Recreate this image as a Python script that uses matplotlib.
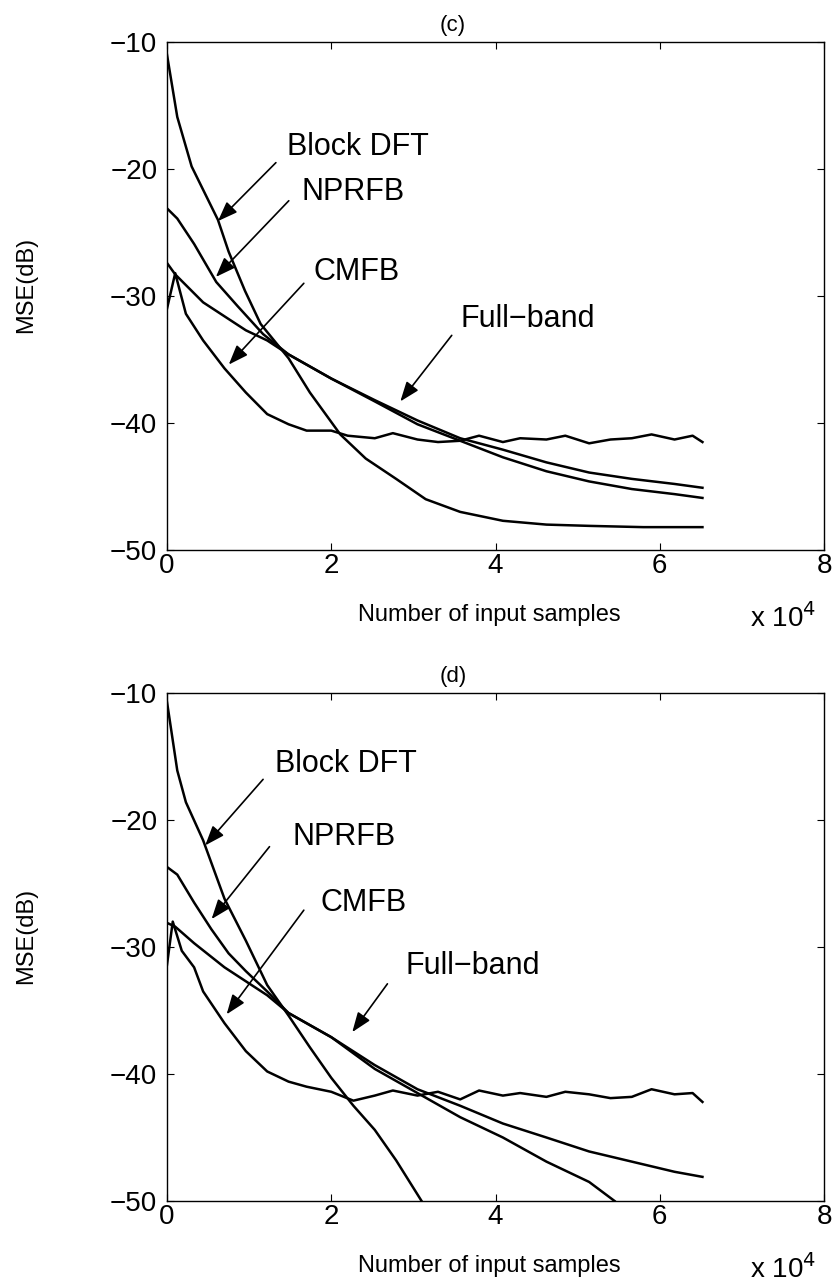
import matplotlib
matplotlib.use("Agg")
import matplotlib.pyplot as plt

plt.rcParams["font.family"] = ["Liberation Sans", "DejaVu Sans"]

# ---- panel (c) ----
c_block_x = [0, 1250, 3000, 6200, 7500, 9500, 11400, 14800, 17400, 21100, 24200, 27900, 31500, 35700, 40900, 46200, 51400, 58000, 65200]
c_block_y = [-11.0, -15.9, -19.8, -24.0, -26.5, -29.6, -32.2, -34.9, -37.6, -40.9, -42.8, -44.4, -46.0, -47.0, -47.7, -48.0, -48.1, -48.2, -48.2]

c_nprfb_x = [0, 1250, 3300, 6000, 8600, 11700, 14800, 20000, 25300, 30500, 35700, 40900, 46200, 51400, 56600, 61800, 65200]
c_nprfb_y = [-23.1, -23.9, -25.9, -28.9, -30.8, -33.0, -34.6, -36.5, -38.2, -39.8, -41.2, -42.1, -43.1, -43.9, -44.4, -44.8, -45.1]

c_full_x = [0, 1000, 4400, 7000, 9600, 12200, 14800, 20000, 25300, 30500, 35700, 40900, 46200, 51400, 56600, 61800, 65200]
c_full_y = [-27.4, -28.3, -30.5, -31.6, -32.7, -33.5, -34.6, -36.5, -38.3, -40.1, -41.4, -42.7, -43.8, -44.6, -45.2, -45.6, -45.9]

c_cmfb_x = [0, 1000, 2300, 4400, 7000, 9600, 12200, 14800, 17000, 20000, 22000, 25300, 27500, 30500, 33000, 35700, 38000, 40900, 43000,
            46200, 48500, 51400, 54000, 56600, 59000, 61800, 64000, 65200]
c_cmfb_y = [-31.0, -28.2, -31.4, -33.5, -35.7, -37.6, -39.3, -40.1, -40.6, -40.6, -41.0, -41.2, -40.8, -41.3, -41.5, -41.4, -41.0, -41.5, -41.2,
            -41.3, -41.0, -41.6, -41.3, -41.2, -40.9, -41.3, -41.0, -41.5]

# ---- panel (d) ----
d_block_x = [0, 1250, 2300, 4400, 7000, 9600, 12200, 14800, 17400, 20000, 22700, 25300, 27900, 31000]
d_block_y = [-10.7, -16.1, -18.6, -21.6, -26.2, -29.5, -33.0, -35.4, -37.9, -40.3, -42.5, -44.4, -46.8, -50.0]

d_nprfb_x = [0, 1250, 3300, 5400, 7500, 9600, 12200, 14800, 20000, 25300, 30500, 35700, 40900, 46200, 51400, 56600, 61800, 65200]
d_nprfb_y = [-23.7, -24.3, -26.5, -28.6, -30.5, -31.9, -33.5, -35.2, -37.1, -39.3, -41.2, -42.5, -43.9, -45.0, -46.1, -46.9, -47.7, -48.1]

d_full_x = [0, 1000, 3300, 7000, 9600, 12200, 14800, 20000, 25300, 30500, 35700, 40900, 46200, 51400, 54500]
d_full_y = [-28.1, -28.4, -29.7, -31.6, -32.7, -33.8, -35.2, -37.1, -39.6, -41.5, -43.4, -45.0, -46.9, -48.5, -50.0]

d_cmfb_x = [0, 700, 1800, 3300, 4400, 7000, 9600, 12200, 14800, 17000, 20000, 22700, 25300, 27500, 30500, 33000, 35700, 38000, 40900,
            43000, 46200, 48500, 51400, 54000, 56600, 59000, 61800, 64000, 65200]
d_cmfb_y = [-31.4, -28.0, -30.3, -31.6, -33.5, -36.0, -38.2, -39.8, -40.6, -41.0, -41.4, -42.1, -41.7, -41.3, -41.7, -41.4, -42.0, -41.3, -41.7,
            -41.5, -41.8, -41.4, -41.6, -41.9, -41.8, -41.2, -41.6, -41.5, -42.2]

labels = ["Block DFT", "NPRFB", "CMFB", "Full\u2212band"]
# (text xy, arrow tail, arrow head) per label
c_notes = [((14570, -18.3), (13260, -19.5), (6210, -24.1)),
           ((16400, -21.8), (14830, -22.5), (5950, -28.5)),
           ((17860, -28.1), (16660, -29.0), (7520, -35.4)),
           ((35720, -31.8), (34670, -33.1), (28410, -38.3))]
d_notes = [((13160, -15.6), (11700, -16.8), (4650, -22.0)),
           ((15250, -21.3), (12480, -22.1), (5430, -27.8)),
           ((18750, -26.5), (16660, -27.1), (7260, -35.3)),
           ((29030, -31.5), (26840, -32.9), (22560, -36.7))]

W, H = 833, 1288


def panel(fig, ax, curves, notes, title, dy):
    for xs, ys in curves:
        ax.plot(xs, ys, color="black", linewidth=1.8)
    for lab, (txy, tail, head) in zip(labels, notes):
        ax.text(txy[0], txy[1], lab, fontsize=22, va="center", ha="left")
        ax.annotate("", xy=head, xytext=tail,
                    arrowprops=dict(arrowstyle="-|>,head_length=1.2,head_width=0.45",
                                    color="black", lw=1.2, shrinkA=0, shrinkB=0))
    ax.set_xlim(0, 80000)
    ax.set_ylim(-50, -10)
    ax.set_xticks([0, 20000, 40000, 60000, 80000])
    ax.set_xticklabels(["0", "2", "4", "6", "8"])
    ax.set_yticks([-50, -40, -30, -20, -10])
    ax.set_yticklabels(["\u221250", "\u221240", "\u221230", "\u221220", "\u221210"])
    ax.tick_params(direction="in", top=True, right=True, labelsize=20, length=5)
    ax.tick_params(axis="x", pad=2)
    ax.tick_params(axis="y", pad=7)
    for sp in ax.spines.values():
        sp.set_linewidth(1.0)
    # title, axis labels and the exponent, placed in figure pixels
    fig.text(453 / W, 1 - (25 + dy) / H, title, fontsize=16, ha="center", va="center")
    fig.text(489 / W, 1 - (615 + dy) / H, "Number of input samples", fontsize=17, ha="center", va="center")
    fig.text(26 / W, 1 - (285 + dy) / H, "MSE(dB)", fontsize=17, ha="center", va="center", rotation=90)
    fig.text(750 / W, 1 - (627 + dy) / H, r"x 10$^{4}$", fontsize=20, ha="left", va="baseline")


fig = plt.figure(figsize=(8.33, 12.88), dpi=100)
ax1 = fig.add_axes([167 / W, 1 - 550 / H, 657 / W, 508 / H])
ax2 = fig.add_axes([167 / W, 1 - 1201 / H, 657 / W, 508 / H])

panel(fig, ax1, [(c_block_x, c_block_y), (c_nprfb_x, c_nprfb_y), (c_full_x, c_full_y), (c_cmfb_x, c_cmfb_y)], c_notes, "(c)", 0)
panel(fig, ax2, [(d_block_x, d_block_y), (d_nprfb_x, d_nprfb_y), (d_full_x, d_full_y), (d_cmfb_x, d_cmfb_y)], d_notes, "(d)", 651)

fig.savefig("out.png", dpi=100)
